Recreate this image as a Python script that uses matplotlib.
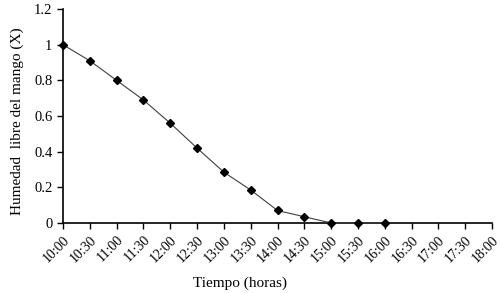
import matplotlib
matplotlib.use("Agg")
import matplotlib.pyplot as plt

plt.rcParams['font.family'] = ['Liberation Serif', 'DejaVu Serif']

tick_labels = ["10:00", "10:30", "11:00", "11:30", "12:00", "12:30", "13:00", "13:30",
               "14:00", "14:30", "15:00", "15:30", "16:00", "16:30", "17:00", "17:30", "18:00"]
times = ["10:00", "10:30", "11:00", "11:30", "12:00", "12:30", "13:00", "13:30",
         "14:00", "14:30", "15:00", "15:30", "16:00"]
humidity = [1.0, 0.91, 0.80, 0.69, 0.56, 0.42, 0.285, 0.185, 0.07, 0.035, 0.0, 0.0, 0.0]

fig = plt.figure(figsize=(5.0, 2.93), dpi=100)
ax = fig.add_axes([0.126, 0.239, 0.858, 0.730])

xpos = [tick_labels.index(t) for t in times]
ax.plot(xpos, humidity, color='#404040', lw=0.8, marker='D', markersize=3.8,
        markerfacecolor='black', markeredgecolor='black', clip_on=False, zorder=3)

ax.set_xlim(0, len(tick_labels) - 1)
ax.set_ylim(0, 1.2)
ax.set_xticks(range(len(tick_labels)))
ax.set_xticklabels(tick_labels, rotation=45, ha='right', rotation_mode='anchor', fontsize=10)
ax.set_yticks([0, 0.2, 0.4, 0.6, 0.8, 1.0, 1.2])
ax.set_yticklabels(["0", "0.2", "0.4", "0.6", "0.8", "1", "1.2"], fontsize=10.5)
ax.tick_params(direction='out', length=4, width=1, color='black')
for s in ['top', 'right']:
    ax.spines[s].set_visible(False)
for s in ['left', 'bottom']:
    ax.spines[s].set_linewidth(1.2)
ax.set_xlabel("Tiempo (horas)", fontsize=11)
ax.xaxis.set_label_coords(0.413, -0.25)
ax.set_ylabel("Humedad  libre del mango (X)", fontsize=11)
ax.yaxis.set_label_coords(-0.09, 0.475)

fig.savefig("out.png", dpi=100)
